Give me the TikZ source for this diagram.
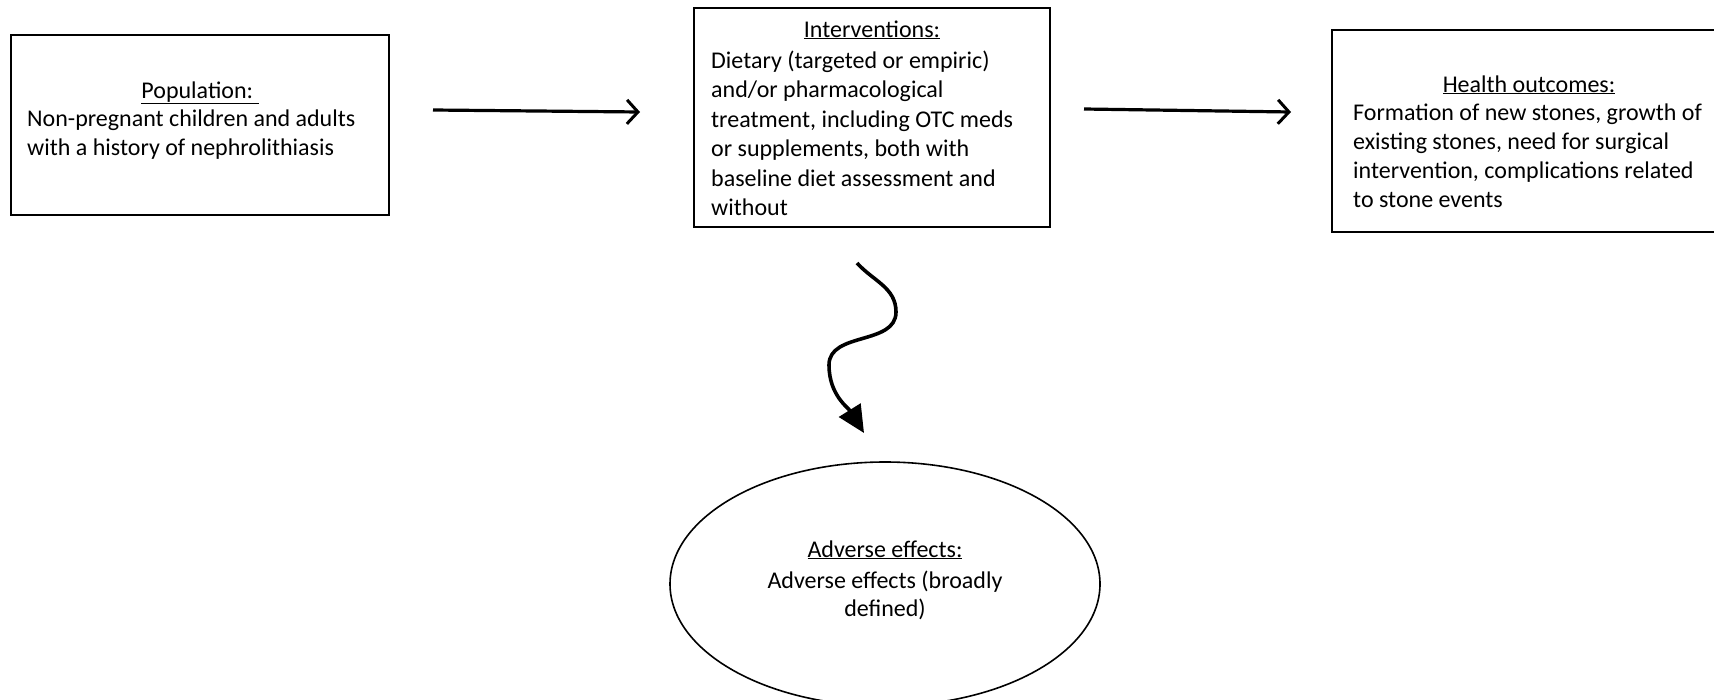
\documentclass[tikz,border=0pt]{standalone}
\usepackage{fontspec}
\setmainfont{Carlito}
\usetikzlibrary{arrows.meta,shapes.geometric}
\tikzset{
  box/.style={draw=black,line width=2pt,inner sep=0pt,fill=none},
  oval/.style={draw=black,line width=1.6pt,ellipse,inner sep=0pt},
  txt/.style={inner sep=0pt,font=\fontsize{24}{29.5}\selectfont},
  ltxt/.style={txt,align=left,anchor=base west},
  ctxt/.style={txt,align=center,anchor=base},
  flow/.style={line width=3.2pt,-{Straight Barb[length=11pt,width=24pt,line width=3pt]}},
  wavy/.style={line width=3.6pt,-{Triangle[length=27pt,width=25pt]}}
}
\begin{document}
\begin{tikzpicture}[x=1pt,y=-1pt]
\useasboundingbox (0,0) rectangle (1714,699);
% boxes
\node[box,minimum width=378pt,minimum height=180pt] (pop) at (200,125) {};
\node[box,minimum width=356pt,minimum height=219pt] (int) at (872,117.5) {};
\node[box,minimum width=398pt,minimum height=202pt] (hea) at (1531,131) {};
\node[oval,minimum width=430pt,minimum height=244pt] (adv) at (885,584) {};
% texts (anchor base = baseline of the last line)
\node[ctxt] (popT) at (200,98) {\underline{Population:\ }};
\node[ltxt,font=\fontsize{24}{29}\selectfont] (popB) at (27,155) {Non-pregnant children and adults\\with a history of nephrolithiasis};
\node[ctxt] (intT) at (872,37) {\underline{Interventions:}};
\node[ltxt] (intB) at (711,215.5) {Dietary (targeted or empiric)\\and/or pharmacological\\treatment, including OTC meds\\or supplements, both with\\baseline diet assessment and\\without};
\node[ctxt] (heaT) at (1529,92) {\underline{Health outcomes:}};
\node[ltxt,font=\fontsize{24}{29}\selectfont] (heaB) at (1353,207) {Formation of new stones, growth of\\existing stones, need for surgical\\intervention, complications related\\to stone events};
\node[ctxt] (advT) at (885,557) {\underline{Adverse effects:}};
\node[ctxt,font=\fontsize{24}{28}\selectfont] (advB) at (885,616) {Adverse effects (broadly\\defined)};
% connectors
\coordinate (a1s) at (433,110);
\coordinate (a1e) at (640,112);
\coordinate (a2s) at (1084,109);
\coordinate (a2e) at (1291,112);
\coordinate (ws) at (857,263);
\coordinate (wa) at (896,312);
\coordinate (wb) at (829,365);
\coordinate (we) at (864,433);
\draw[flow] (a1s) -- (a1e);
\draw[flow] (a2s) -- (a2e);
\draw[wavy] (ws) to[out=-48,in=90] (wa) to[out=-90,in=90] (wb) to[out=-90,in=122] (we);
\end{tikzpicture}
\end{document}
